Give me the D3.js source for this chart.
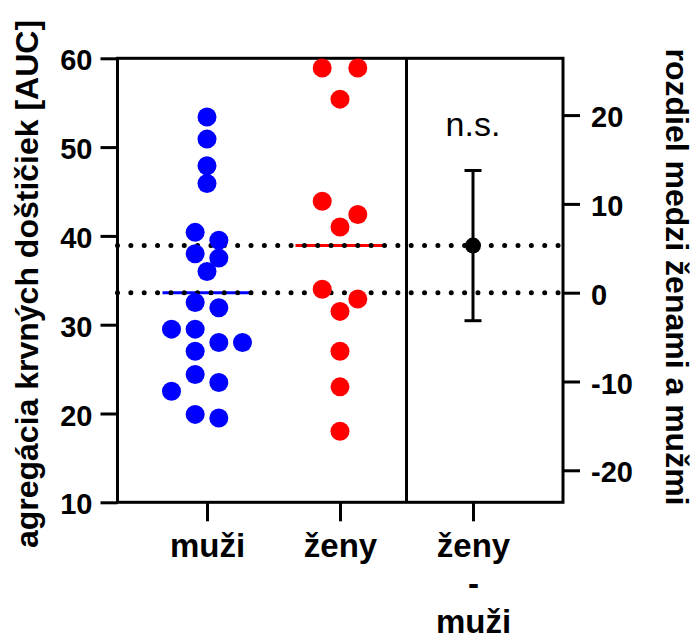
<!DOCTYPE html>
<html>
<head>
<meta charset="utf-8">
<script src="https://cdn.jsdelivr.net/npm/d3@7"></script>
<style>
  body { margin: 0; background: #fff; }
  text { font-family: 'Liberation Sans', Arial, sans-serif; }
</style>
</head>
<body>
<div id="chart"></div>
<script>
// data
const categories = ['muži', 'ženy', 'ženy - muži']
const muzi = [53.4, 50.9, 47.9, 45.9, 40.4, 39.5, 38.0, 37.5, 36.0, 32.5, 31.9,
              29.5, 29.5, 28.0, 28.0, 27.0, 24.4, 23.5, 22.5, 19.9, 19.5]
const zeny = [58.9, 58.9, 55.4, 43.9, 42.4, 41.0, 34.0, 32.9, 31.5, 27.0, 23.0, 18.0]
const leftTicks = [10, 20, 30, 40, 50, 60]
const rightTicks = [-20, -10, 0, 10, 20]
const tCrit = 2.04 // t(0.975, df = 31), pooled two-sample CI
const signifLabel = 'n.s.'
const yTitle = 'agregácia krvných doštičiek [AUC]'
const y2Title = 'rozdiel medzi ženami a mužmi'

const width = 694, height = 639
const plotLeft = 117.5, plotRight = 563, plotTop = 58.3, plotBottom = 502.3
const radius = 9.5
const colors = ['#0000ff', '#ff0000']
const bold = 'bold'

const svg = d3.select('#chart').append('svg')
    .attr('width', width)
    .attr('height', height)

const y = d3.scaleLinear().domain([10, 60]).range([plotBottom, plotTop])
const x = d3.scalePoint().domain(categories).range([207, 473])

const mMean = d3.mean(muzi)
const zMean = d3.mean(zeny)
const diff = zMean - mMean
const pooled = (d3.variance(muzi) * (muzi.length - 1) + d3.variance(zeny) * (zeny.length - 1)) /
               (muzi.length + zeny.length - 2)
const se = Math.sqrt(pooled * (1 / muzi.length + 1 / zeny.length))
const ci = [diff - tCrit * se, diff + tCrit * se]

// right axis: 0 sits on the mean of muži
const y2 = d3.scaleLinear().domain([10 - mMean, 60 - mMean]).range([plotBottom, plotTop])

// Prism-like scatter: rows of close values spread symmetrically
function swarm (values, cx) {
  const ys = values.map(v => y(v))
  const order = d3.range(values.length).sort((a, b) => d3.descending(values[a], values[b]))
  const rows = []
  order.forEach(i => {
    const row = rows[rows.length - 1]
    if (row && ys[i] - ys[row[0]] < 16) row.push(i)
    else rows.push([i])
  })
  const maxN = d3.max(rows, r => r.length)
  const gap = maxN > 1 ? Math.min(35.6, 71 / (maxN - 1)) : 35.6
  const placed = []
  rows.forEach(row => {
    let offs = row.map((_, k) => (k - (row.length - 1) / 2) * gap)
    if (row.length === 1) {
      const cands = [0, -0.5, 0.5, -1.5, 1.5].map(c => c * gap)
      const free = cands.find(c => placed.every(p => Math.hypot(p.x - (cx + c), p.y - ys[row[0]]) >= 17.5))
      offs = [free === undefined ? 0 : free]
    }
    row.forEach((i, k) => placed.push({ v: values[i], x: cx + offs[k], y: ys[i] }))
  })
  return placed
}

// axes
const gy = svg.append('g')
    .attr('transform', `translate(${plotLeft},0)`)
    .call(d3.axisLeft(y).tickValues(leftTicks).tickSize(17).tickPadding(8))
const gy2 = svg.append('g')
    .attr('transform', `translate(${plotRight},0)`)
    .call(d3.axisRight(y2).tickValues(rightTicks).tickFormat(d => String(d)).tickSize(17).tickPadding(11))
const gx = svg.append('g')
    .attr('transform', `translate(0,${plotBottom})`)
    .call(d3.axisBottom(x).tickSize(19).tickFormat(''))

;[gy, gy2, gx].forEach(g => {
  g.select('.domain').remove()
  g.selectAll('.tick line').attr('stroke', '#000').attr('stroke-width', 3)
  g.selectAll('.tick text')
      .attr('fill', '#000')
      .attr('font-size', 29)
      .attr('font-weight', bold)
      .attr('dy', '0.4em')
})

gx.selectAll('.tick').append('text')
    .attr('fill', '#000')
    .attr('font-size', 33)
    .attr('font-weight', bold)
    .attr('text-anchor', 'middle')
    .selectAll('tspan')
    .data(d => d.split(' '))
    .join('tspan')
      .attr('x', 0)
      .attr('y', (d, i) => 55 + i * 38)
      .text(d => d)

// frame
svg.append('rect')
    .attr('x', plotLeft)
    .attr('y', plotTop)
    .attr('width', plotRight - plotLeft)
    .attr('height', plotBottom - plotTop)
    .attr('fill', 'none')
    .attr('stroke', '#000')
    .attr('stroke-width', 3)
const divX = (x(categories[1]) + x(categories[2])) / 2
svg.append('line')
    .attr('x1', divX).attr('x2', divX)
    .attr('y1', plotTop).attr('y2', plotBottom)
    .attr('stroke', '#000')
    .attr('stroke-width', 3)

// means
const groups = [muzi, zeny]
svg.append('g').selectAll('line')
    .data(groups)
    .join('line')
      .attr('x1', (d, i) => x(categories[i]) - 44.5)
      .attr('x2', (d, i) => x(categories[i]) + 44.5)
      .attr('y1', d => y(d3.mean(d)))
      .attr('y2', d => y(d3.mean(d)))
      .attr('stroke', (d, i) => colors[i])
      .attr('stroke-width', 3)

// dotted reference lines
svg.append('g').selectAll('line')
    .data([mMean, zMean])
    .join('line')
      .attr('x1', plotLeft)
      .attr('x2', plotRight)
      .attr('y1', d => y(d))
      .attr('y2', d => y(d))
      .attr('stroke', '#000')
      .attr('stroke-width', 5)
      .attr('stroke-linecap', 'round')
      .attr('stroke-dasharray', '0 13.35')

// points
groups.forEach((vals, i) => {
  svg.append('g')
      .attr('fill', colors[i])
    .selectAll('circle')
    .data(swarm(vals, x(categories[i])))
    .join('circle')
      .attr('cx', d => d.x)
      .attr('cy', d => d.y)
      .attr('r', radius)
})

// difference with confidence interval
const dx = x(categories[2])
const eb = svg.append('g').attr('stroke', '#000').attr('stroke-width', 3)
eb.append('line')
    .attr('x1', dx).attr('x2', dx)
    .attr('y1', y2(ci[0])).attr('y2', y2(ci[1]))
eb.selectAll('line.cap')
    .data(ci)
    .join('line')
      .attr('class', 'cap')
      .attr('x1', dx - 8.5)
      .attr('x2', dx + 8.5)
      .attr('y1', d => y2(d))
      .attr('y2', d => y2(d))
svg.append('circle')
    .attr('cx', dx)
    .attr('cy', y2(diff))
    .attr('r', 8)
    .attr('fill', '#000')

svg.append('text')
    .attr('x', dx)
    .attr('y', y2(ci[1]) - 34)
    .attr('text-anchor', 'middle')
    .attr('font-size', 34)
    .text(signifLabel)

// axis titles
svg.append('text')
    .attr('transform', 'translate(38,284) rotate(-90)')
    .attr('text-anchor', 'middle')
    .attr('font-size', 32)
    .attr('font-weight', bold)
    .text(yTitle)
svg.append('text')
    .attr('transform', 'translate(666,277) rotate(90)')
    .attr('text-anchor', 'middle')
    .attr('font-size', 32)
    .attr('font-weight', bold)
    .text(y2Title)
</script>
</body>
</html>
